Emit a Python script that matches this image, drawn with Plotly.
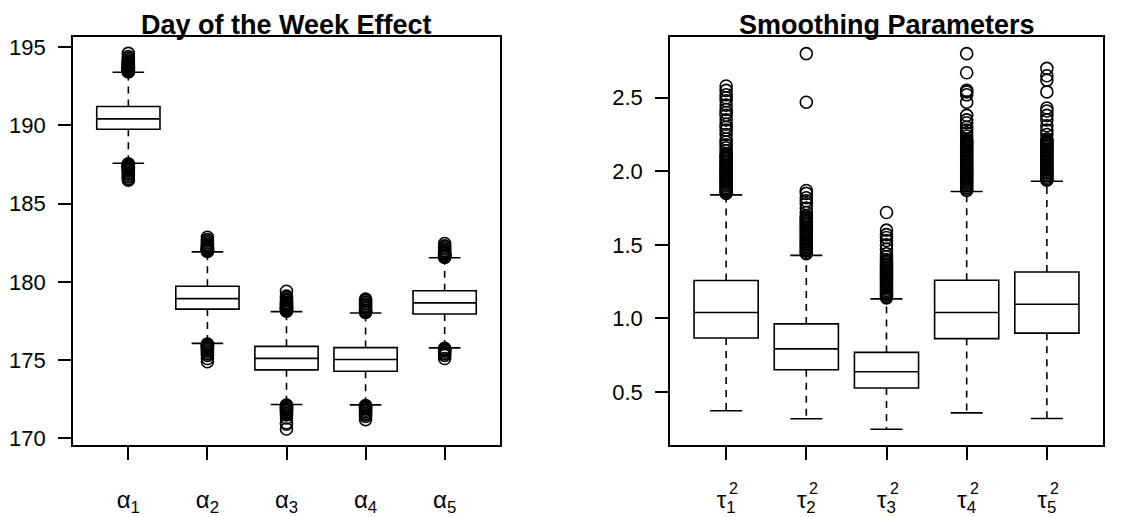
import plotly.graph_objects as go

# ---------------- data ----------------
alpha_labels = ["α<sub>1</sub>", "α<sub>2</sub>", "α<sub>3</sub>", "α<sub>4</sub>", "α<sub>5</sub>"]
alpha_q1 = [189.75, 178.26, 174.38, 174.29, 177.95]
alpha_med = [190.42, 178.93, 175.11, 175.04, 178.66]
alpha_q3 = [191.21, 179.72, 175.88, 175.80, 179.43]
alpha_lo = [187.58, 176.07, 172.16, 172.14, 175.78]
alpha_hi = [193.40, 181.92, 178.10, 178.01, 181.54]
alpha_out = [
    [193.42, 193.45, 193.48, 193.5, 193.53, 193.55, 193.58, 193.6, 193.63, 193.65, 193.68, 193.7, 193.73,
     193.75, 193.78, 193.8, 193.85, 193.9, 193.95, 194.0, 194.05, 194.1, 194.2, 194.3, 194.4, 194.6,
     187.55, 187.5, 187.47, 187.44, 187.4, 187.37, 187.33, 187.3, 187.25, 187.2, 187.15, 187.1, 187.0,
     186.9, 186.8, 186.7, 186.6, 186.5],
    [181.95, 181.98, 182.0, 182.03, 182.05, 182.08, 182.1, 182.13, 182.15, 182.2, 182.25, 182.3, 182.35,
     182.4, 182.5, 182.6, 182.7, 182.85,
     176.03, 176.0, 175.97, 175.94, 175.9, 175.85, 175.8, 175.75, 175.7, 175.6, 175.5, 175.4, 175.3,
     175.1, 174.9],
    [178.13, 178.16, 178.2, 178.23, 178.26, 178.3, 178.33, 178.36, 178.4, 178.45, 178.5, 178.55, 178.6,
     178.65, 178.7, 178.8, 178.9, 179.0, 179.1, 179.4,
     172.13, 172.1, 172.05, 172.0, 171.95, 171.9, 171.85, 171.8, 171.7, 171.6, 171.5, 171.3, 171.0,
     170.9, 170.6],
    [178.04, 178.07, 178.1, 178.15, 178.2, 178.3, 178.4, 178.5, 178.6, 178.7, 178.8, 178.9,
     172.1, 172.05, 172.0, 171.95, 171.9, 171.8, 171.7, 171.6, 171.5, 171.4, 171.2],
    [181.57, 181.6, 181.63, 181.66, 181.7, 181.75, 181.8, 181.85, 181.9, 182.0, 182.1, 182.2, 182.3, 182.45,
     175.75, 175.7, 175.65, 175.6, 175.5, 175.4, 175.3, 175.1],
]
alpha_ticks = [170, 175, 180, 185, 190, 195]

tau_labels = ["τ<sub>1</sub>", "τ<sub>2</sub>", "τ<sub>3</sub>", "τ<sub>4</sub>", "τ<sub>5</sub>"]
tau_sup = ["2", "2", "2", "2", "2"]
tau_q1 = [0.867, 0.651, 0.527, 0.863, 0.900]
tau_med = [1.040, 0.793, 0.638, 1.040, 1.096]
tau_q3 = [1.258, 0.963, 0.769, 1.260, 1.316]
tau_lo = [0.373, 0.318, 0.247, 0.358, 0.320]
tau_hi = [1.840, 1.429, 1.133, 1.863, 1.933]
tau_out = [
    [1.85, 1.86, 1.87, 1.88, 1.89, 1.90, 1.91, 1.92, 1.93, 1.94, 1.95, 1.96, 1.97, 1.98, 1.99, 2.00,
     2.01, 2.02, 2.03, 2.04, 2.05, 2.06, 2.07, 2.08, 2.09, 2.10, 2.11, 2.12,
     2.14, 2.16, 2.18, 2.20, 2.22, 2.25, 2.28, 2.30, 2.32, 2.35, 2.38, 2.40, 2.42, 2.45, 2.48, 2.50,
     2.52, 2.55, 2.58],
    [1.44, 1.45, 1.46, 1.47, 1.48, 1.49, 1.50, 1.51, 1.52, 1.53, 1.54, 1.55, 1.56, 1.57, 1.58, 1.59,
     1.60, 1.61, 1.62, 1.63, 1.64, 1.65, 1.66, 1.67, 1.68, 1.69, 1.70,
     1.72, 1.75, 1.78, 1.80, 1.82, 1.85, 1.87, 2.47, 2.80],
    [1.14, 1.15, 1.16, 1.17, 1.18, 1.19, 1.20, 1.21, 1.22, 1.23, 1.24, 1.25, 1.26, 1.27, 1.28, 1.29,
     1.30, 1.31, 1.32, 1.33, 1.34, 1.35, 1.36, 1.37, 1.38, 1.39, 1.40,
     1.42, 1.44, 1.47, 1.50, 1.53, 1.55, 1.57, 1.60, 1.72],
    [1.87, 1.88, 1.89, 1.90, 1.91, 1.92, 1.93, 1.94, 1.95, 1.96, 1.97, 1.98, 1.99, 2.00, 2.01, 2.02,
     2.03, 2.04, 2.05, 2.06, 2.07, 2.08, 2.09, 2.10, 2.11, 2.12, 2.13, 2.14, 2.15, 2.16, 2.17, 2.18,
     2.19, 2.20, 2.21, 2.22,
     2.24, 2.26, 2.28, 2.30, 2.33, 2.35, 2.38, 2.47, 2.52, 2.54, 2.55, 2.67, 2.80],
    [1.94, 1.95, 1.96, 1.97, 1.98, 1.99, 2.00, 2.01, 2.02, 2.03, 2.04, 2.05, 2.06, 2.07, 2.08, 2.09,
     2.10, 2.11, 2.12, 2.13, 2.14, 2.15, 2.16, 2.17, 2.18, 2.19, 2.20, 2.21, 2.22,
     2.25, 2.28, 2.31, 2.35, 2.38, 2.41, 2.43, 2.54, 2.62, 2.65, 2.70],
]
tau_ticks = [0.5, 1.0, 1.5, 2.0, 2.5]
tau_ticktext = ["0.5", "1.0", "1.5", "2.0", "2.5"]

# ---------------- style ----------------
W, H = 1145, 517
FONT = "Liberation Sans, Arial, Helvetica, sans-serif"
LW = 1.6
BOXW = 0.8
STAPLE = 0.2
xdom1 = [73 / W, 500 / W]
xdom2 = [670 / W, 1103 / W]
ydom = [65 / H, 481 / H]

fig = go.Figure()


def add_panel(xa, ya, q1, med, q3, lo, hi, outs):
    pos = list(range(1, len(q1) + 1))
    # whiskers (dashed)
    wx, wy = [], []
    for p, a, b, c, d in zip(pos, q1, q3, lo, hi):
        wx += [p, p, None, p, p, None]
        wy += [b, d, None, a, c, None]
    fig.add_trace(go.Scatter(x=wx, y=wy, mode="lines", xaxis=xa, yaxis=ya,
                             line=dict(color="black", width=LW, dash="7px,6px"),
                             hoverinfo="skip", showlegend=False))
    # staples
    sx, sy = [], []
    for p, c, d in zip(pos, lo, hi):
        sx += [p - STAPLE, p + STAPLE, None, p - STAPLE, p + STAPLE, None]
        sy += [d, d, None, c, c, None]
    fig.add_trace(go.Scatter(x=sx, y=sy, mode="lines", xaxis=xa, yaxis=ya,
                             line=dict(color="black", width=LW),
                             hoverinfo="skip", showlegend=False))
    # boxes
    fig.add_trace(go.Box(x=pos, q1=q1, median=med, q3=q3, lowerfence=q1, upperfence=q3,
                         width=BOXW, whiskerwidth=0, boxpoints=False,
                         fillcolor="white", line=dict(color="black", width=LW),
                         xaxis=xa, yaxis=ya, showlegend=False))
    # outliers
    ox, oy = [], []
    for p, o in zip(pos, outs):
        ox += [p] * len(o)
        oy += o
    fig.add_trace(go.Scatter(x=ox, y=oy, mode="markers", xaxis=xa, yaxis=ya,
                             marker=dict(symbol="circle-open", size=12, color="black",
                                         line=dict(width=1.6, color="black")),
                             showlegend=False))


add_panel("x", "y", alpha_q1, alpha_med, alpha_q3, alpha_lo, alpha_hi, alpha_out)
add_panel("x2", "y2", tau_q1, tau_med, tau_q3, tau_lo, tau_hi, tau_out)

axis_line = dict(showgrid=False, zeroline=False, showline=True, mirror=True,
                 linecolor="black", linewidth=LW, ticks="outside", ticklen=13,
                 tickwidth=LW, tickcolor="black")
yfont = dict(family=FONT, size=22, color="black")
xfont = dict(family=FONT, size=24, color="black")

fig.update_layout(
    width=W, height=H,
    margin=dict(l=0, r=0, t=0, b=0),
    paper_bgcolor="white", plot_bgcolor="white",
    showlegend=False,
    xaxis=dict(domain=xdom1, range=[0.3, 5.7], tickvals=[1, 2, 3, 4, 5], ticktext=alpha_labels,
               anchor="y", ticklabelstandoff=19, tickfont=xfont, **axis_line),
    yaxis=dict(domain=ydom, range=[169.56, 195.63], tickvals=alpha_ticks, anchor="x",
               ticklabelstandoff=8, tickfont=yfont, **axis_line),
    xaxis2=dict(domain=xdom2, range=[0.3, 5.7], tickvals=[1, 2, 3, 4, 5], ticktext=tau_labels,
                anchor="y2", ticklabelstandoff=19, tickfont=xfont, **axis_line),
    yaxis2=dict(domain=ydom, range=[0.138, 2.911], tickvals=tau_ticks, ticktext=tau_ticktext,
                anchor="x2", ticklabelstandoff=8, tickfont=yfont, **axis_line),
)

# superscript "2" stacked above the tau subscripts
for i, s in enumerate(tau_sup):
    fig.add_annotation(x=i + 1, y=0, xref="x2", yref="paper", text=s, showarrow=False,
                       xanchor="left", yanchor="bottom", xshift=1, yshift=10,
                       font=dict(family=FONT, size=16, color="black"))

# panel titles
for dom, t in [(xdom1, "Day of the Week Effect"), (xdom2, "Smoothing Parameters")]:
    fig.add_annotation(x=(dom[0] + dom[1]) / 2, y=ydom[1], xref="paper", yref="paper",
                       text="<b>" + t + "</b>", showarrow=False, xanchor="center",
                       yanchor="bottom", yshift=-5,
                       font=dict(family=FONT, size=27, color="black"))

fig.write_html("out.html")
